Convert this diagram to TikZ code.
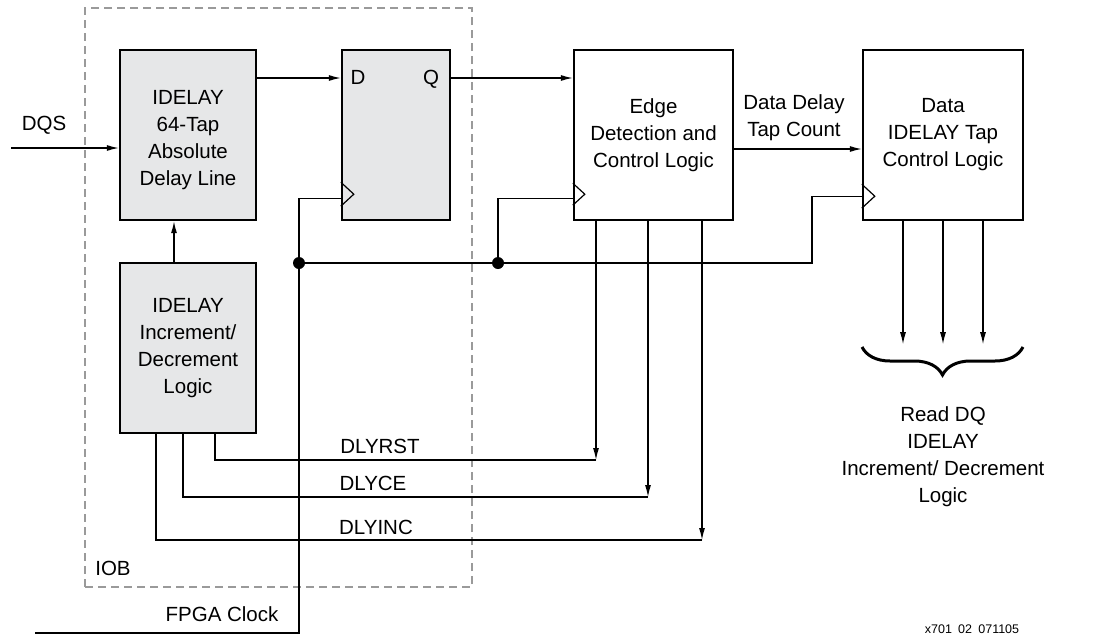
\documentclass[tikz,border=0pt]{standalone}
\usepackage{fontspec}
\setmainfont{Liberation Sans}
\usetikzlibrary{arrows.meta,decorations.pathreplacing}
\definecolor{iobfill}{HTML}{E6E7E8}
\definecolor{iobline}{HTML}{9A9A9A}
\tikzset{
  blk/.style={draw, line width=2.4pt, minimum height=170pt, align=center, inner sep=0pt},
  sig/.style={-{Latex[length=12pt,width=6pt]}},
  txt/.style={font=\fontsize{20.5}{27}\selectfont, align=center},
}
\begin{document}
\begin{tikzpicture}[x=1pt, y=-1pt, line width=1.2pt, every node/.style={txt}]
\useasboundingbox (0,0) rectangle (1104,635);

% IOB boundary
\node[draw=iobline, dash pattern=on 8pt off 5pt, minimum width=387pt, minimum height=579pt, inner sep=0pt] (iob) at (278.5,297.5) {};
\node (ioblab) at (113,568) {IOB};

% blocks
\node[blk, fill=iobfill, minimum width=136pt] (delay) at (188,135) {};
\node (delaytxt) at (188,140) {IDELAY\\64-Tap\\Absolute\\Delay Line};
\node[blk, fill=iobfill, minimum width=136pt] (incdec) at (188,348) {IDELAY\\Increment/\\Decrement\\Logic};
\node[blk, fill=iobfill, minimum width=108pt] (ff) at (396,135) {};
\node[blk, minimum width=159pt] (edge) at (653.5,135) {Edge\\Detection and\\Control Logic};
\node[blk, minimum width=160pt] (tapctl) at (943,135) {Data\\IDELAY Tap\\Control Logic};
\node[anchor=base] (dlab) at (358,84) {D};
\node[anchor=base] (qlab) at (431,84) {Q};

% clock triangles
\draw ([yshift=39pt]ff.south west) -- ++(13,12) -- ++(-13,12);
\draw ([yshift=38pt]edge.south west) -- ++(12,11) -- ++(-12,11);
\draw ([yshift=37pt]tapctl.south west) -- ++(13,12) -- ++(-13,12);

% data path
\coordinate (dqsin) at (11,148);
\coordinate (dout) at (256,78);
\coordinate (qout) at (450,78);
\coordinate (cntout) at (733,149);
\node (dqs) at (44,125) {DQS};
\draw[sig] (dqsin) -- (dqsin -| delay.west);
\draw[sig] (dout) -- (dout -| ff.west);
\draw[sig] (qout) -- (qout -| edge.west);
\draw[sig] (cntout) -- (cntout -| tapctl.west);
\node (cnt) at (794,118) {Data Delay\\Tap Count};
\draw[sig] ([xshift=-14pt]incdec.north) -- ([xshift=-14pt]delay.south);

% clock net
\coordinate (clkin) at (35,633);
\coordinate (dot1) at (299,263);
\coordinate (dot2) at (498,263);
\coordinate (bend) at (812,263);
\node (fpga) at (222,614) {FPGA Clock};
\draw (clkin) -| (dot1) |- ([yshift=23pt]ff.south west);
\draw (dot1) -- (dot2) -- (bend) |- ([yshift=25pt]tapctl.south west);
\draw (dot2) |- ([yshift=23pt]edge.south west);
\fill (dot1) circle (6pt);
\fill (dot2) circle (6pt);

% control signals
\coordinate (rst) at (596,460);
\coordinate (ce) at (648,497);
\coordinate (inc) at (702,540);
\draw[sig] (edge.south -| rst) -- (rst);
\draw[sig] (edge.south -| ce) -- (ce);
\draw[sig] (edge.south -| inc) -- (inc);
\draw (rst) -| ([xshift=27pt]incdec.south);
\draw (ce) -| ([xshift=-5pt]incdec.south);
\draw (inc) -| ([xshift=-32pt]incdec.south);
\node (rstlab) at (380,446) {DLYRST};
\node (celab) at (373,483) {DLYCE};
\node (inclab) at (376,527) {DLYINC};

% read DQ outputs
\coordinate (brl) at (862,347);
\coordinate (brr) at (1023,347);
\draw[sig] ([xshift=-40pt]tapctl.south) -- ++(0,123);
\draw[sig] (tapctl.south) -- ++(0,123);
\draw[sig] ([xshift=40pt]tapctl.south) -- ++(0,123);
\draw[line width=3pt, decorate, decoration={brace, amplitude=28pt}] (brr) -- (brl);
\node (rdq) at (943,457) {Read DQ\\IDELAY\\Increment/ Decrement\\Logic};

\node[font=\fontsize{12.5}{15}\selectfont] (fig) at (972,629) {x701\enspace 02\enspace 071105};
\end{tikzpicture}
\end{document}
